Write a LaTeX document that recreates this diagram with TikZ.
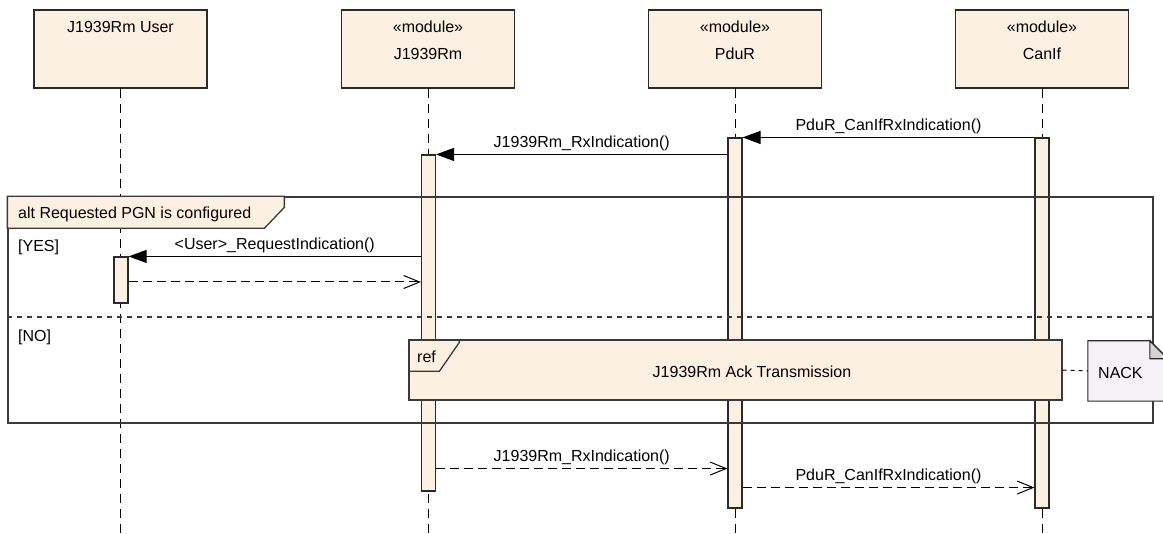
\documentclass[tikz,border=0pt]{standalone}
\usepackage{fontspec}
\setmainfont{Liberation Sans}
\usetikzlibrary{arrows.meta}
\definecolor{beige}{HTML}{FBF0E1}
\definecolor{notefill}{HTML}{F5F2F7}
\definecolor{foldfill}{HTML}{D6D3D7}
\definecolor{framecol}{HTML}{3A3A3A}
\definecolor{boxcol}{HTML}{2A2A2A}
\tikzset{
  hdr/.style={draw=boxcol, line width=1.4pt, fill=beige, minimum width=173pt, minimum height=78pt, inner sep=0pt},
  actbar/.style={draw=boxcol, line width=1.1pt, fill=beige, minimum width=14pt, inner sep=0pt},
  txt/.style={inner sep=0pt, font=\fontsize{16}{19}\selectfont},
  life/.style={line width=1pt, dash pattern=on 9pt off 6pt},
  sync/.style={line width=1pt, -{Triangle[length=18pt,width=13pt]}},
  ret/.style={line width=1pt, dash pattern=on 9pt off 5pt, -{Straight Barb[length=16pt,width=13pt]}, shorten >=0pt},
  msglbl/.style={txt, midway, yshift=11pt},
  frameline/.style={draw=framecol, line width=1.3pt},
  sepline/.style={draw=framecol, line width=1.1pt, dash pattern=on 5pt off 5pt},
}
\begin{document}
\begin{tikzpicture}[x=1pt,y=-1pt]
\useasboundingbox (0,0) rectangle (1163,534);
\clip (0,0) rectangle (1163,534);
\coordinate (bot) at (0,534);
\coordinate (sepy) at (0,317);

% headers
\node[hdr] (hU) at (120.5,49) {};
\node[hdr] (hJ) at (428,49) {};
\node[hdr] (hP) at (735,49) {};
\node[hdr] (hC) at (1042,49) {};
\node[txt] (tU) at (120.5,27) {J1939Rm User};
\node[txt] (sJ) at (428,27) {«module»};
\node[txt] (tJ) at (428,54) {J1939Rm};
\node[txt] (sP) at (735,27) {«module»};
\node[txt] (tP) at (735,54) {PduR};
\node[txt] (sC) at (1042,27) {«module»};
\node[txt] (tC) at (1042,54) {CanIf};

% lifelines
\draw[life] (hU.south) -- (hU.south |- bot);
\draw[life] (hJ.south) -- (hJ.south |- bot);
\draw[life] (hP.south) -- (hP.south |- bot);
\draw[life] (hC.south) -- (hC.south |- bot);

% activations
\node[actbar, minimum height=336pt] (aJ) at (428.5,323) {};
\node[actbar, minimum height=370pt] (aP) at (735,323) {};
\node[actbar, minimum height=370pt] (aC) at (1042,323) {};
\node[actbar, minimum height=46pt] (aU) at (121,280) {};

% alt frame
\node[frameline, minimum width=1145pt, minimum height=226pt, inner sep=0pt] (alt) at (580.5,310) {};
\draw[frameline, fill=beige] (alt.north west) -- ++(277,0) -- ++(0,11) -- ++(-20,21) -- ++(-257,0) -- cycle;
\node[txt, anchor=west] (altT) at (18,214) {alt Requested PGN is configured};
\node[txt, anchor=west] (yes) at (18,247) {[YES]};
\node[txt, anchor=west] (no) at (18,337) {[NO]};
\draw[sepline] (alt.west |- sepy) -- (alt.east |- sepy);

% ref frame
\node[frameline, fill=beige, minimum width=653pt, minimum height=60pt, inner sep=0pt] (ref) at (735.5,370) {};
\draw[frameline] (ref.north west) ++(51,0) -- ++(0,3) -- ++(-20,29) -- ++(-31,0);
\node[txt, anchor=west] (refL) at (417,357) {ref};
\node[txt] (refT) at (752,372) {J1939Rm Ack Transmission};

% note
\node[minimum width=80pt, minimum height=60pt, inner sep=0pt] (nack) at (1128,371) {};
\draw[draw=boxcol, line width=1.1pt, fill=notefill] (nack.north west) -- ++(62,0) -- ++(18,18) -- (nack.south east) -- (nack.south west) -- cycle;
\draw[draw=boxcol, line width=1.1pt, fill=foldfill] (nack.north west) ++(62,0) -- ++(0,18) -- ++(18,0) -- cycle;
\node[txt, anchor=west] (nackT) at (1098,373) {NACK};
\draw[line width=1pt, dash pattern=on 4pt off 4pt] (ref.east) -- (nack.west);

% messages
\draw[sync] (aC.north west) -- (aP.north east) node[msglbl] {PduR\_CanIfRxIndication()};
\draw[sync] (aP.west |- aJ.north) -- (aJ.north east) node[msglbl] {J1939Rm\_RxIndication()};
\draw[sync] (aJ.west |- aU.north) -- (aU.north east) node[msglbl] {<User>\_RequestIndication()};
\coordinate (r0) at ([yshift=-2pt]aU.east);
\draw[ret] (r0) -- (r0 -| aJ.west);
\coordinate (r1) at ([yshift=23pt]aJ.south east);
\draw[ret] (r1) -- (r1 -| aP.west) node[msglbl] {J1939Rm\_RxIndication()};
\coordinate (r2) at ([yshift=21pt]aP.south east);
\draw[ret] (r2) -- (r2 -| aC.west) node[msglbl] {PduR\_CanIfRxIndication()};
\end{tikzpicture}
\end{document}
